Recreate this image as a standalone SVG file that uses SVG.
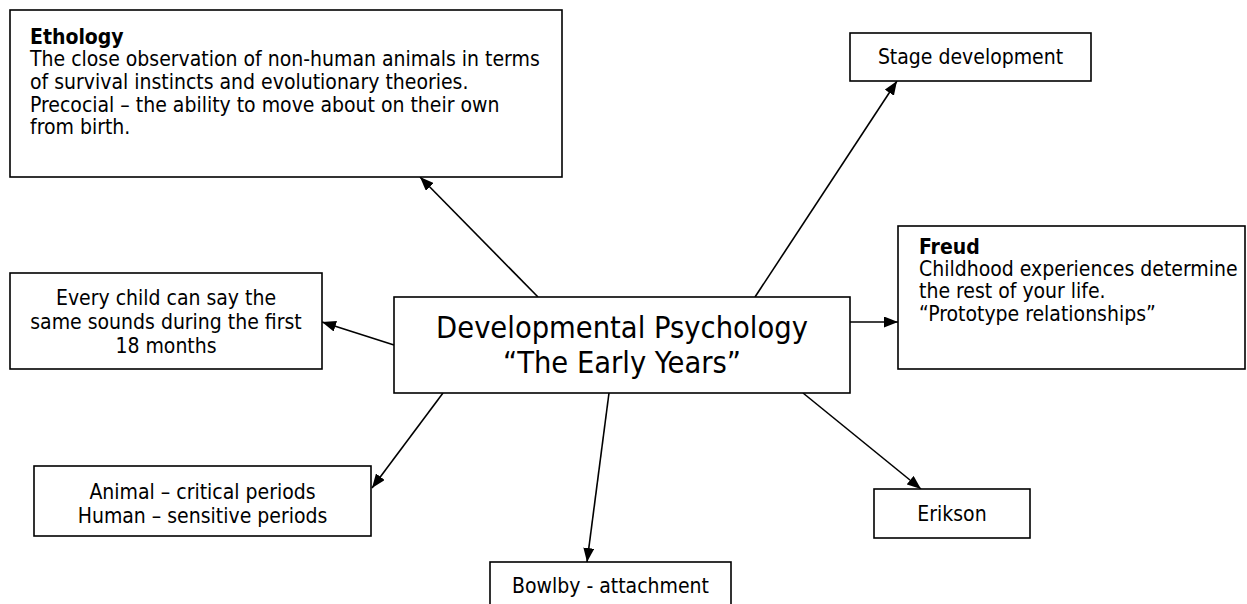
<svg xmlns="http://www.w3.org/2000/svg" width="1247" height="604" viewBox="0 0 1247 604">
<defs>
<marker id="ah" viewBox="0 0 14 11" refX="14" refY="5.5" markerWidth="14" markerHeight="11" markerUnits="userSpaceOnUse" orient="auto">
<path d="M0,0 L14,5.5 L0,11 z" fill="#000"/>
</marker>
<style>
.box{fill:#fff;stroke:#000;stroke-width:1.6}
.t{font-family:"DejaVu Sans Condensed","DejaVu Sans",sans-serif;font-size:21px;fill:#000}
.b{font-weight:bold}
.c{text-anchor:middle}
.big{font-size:30.5px}
.con line{stroke:#000;stroke-width:1.6;marker-end:url(#ah)}
</style>
</defs>
<rect width="1247" height="604" fill="#fff"/>
<g id="connectors" class="con">
<line x1="538" y1="297" x2="420" y2="177"/>
<line x1="755" y1="297" x2="897" y2="81"/>
<line x1="850" y1="322" x2="898" y2="322"/>
<line x1="394" y1="345" x2="322" y2="322"/>
<line x1="443" y1="393" x2="372" y2="488"/>
<line x1="609" y1="393" x2="587" y2="562"/>
<line x1="803" y1="393" x2="921" y2="489"/>
</g>
<g id="ethology">
<rect class="box" x="10" y="10" width="552" height="167"/>
<text class="t b" x="30" y="44">Ethology</text>
<text class="t" x="30" y="66">The close observation of non-human animals in terms</text>
<text class="t" x="30" y="89">of survival instincts and evolutionary theories.</text>
<text class="t" x="30" y="112">Precocial – the ability to move about on their own</text>
<text class="t" x="30" y="134">from birth.</text>
</g>
<g id="stage">
<rect class="box" x="850" y="33" width="241" height="48"/>
<text class="t c" x="970.5" y="64">Stage development</text>
</g>
<g id="freud">
<rect class="box" x="898" y="226" width="347" height="143"/>
<text class="t b" x="919" y="254">Freud</text>
<text class="t" x="919" y="276">Childhood experiences determine</text>
<text class="t" x="919" y="298">the rest of your life.</text>
<text class="t" x="919" y="321">“Prototype relationships”</text>
</g>
<g id="every-child">
<rect class="box" x="10" y="273" width="312" height="96"/>
<text class="t c" x="166" y="305">Every child can say the</text>
<text class="t c" x="166" y="329">same sounds during the first</text>
<text class="t c" x="166" y="353">18 months</text>
</g>
<g id="center">
<rect class="box" x="394" y="297" width="456" height="96"/>
<text class="t c big" x="622" y="338">Developmental Psychology</text>
<text class="t c big" x="622" y="373">“The Early Years”</text>
</g>
<g id="animal">
<rect class="box" x="34" y="466" width="337" height="70"/>
<text class="t c" x="202.5" y="499">Animal – critical periods</text>
<text class="t c" x="202.5" y="523">Human – sensitive periods</text>
</g>
<g id="erikson">
<rect class="box" x="874" y="489" width="156" height="49"/>
<text class="t c" x="952" y="521">Erikson</text>
</g>
<g id="bowlby">
<rect class="box" x="490" y="562" width="241" height="60"/>
<text class="t c" x="610.5" y="593">Bowlby - attachment</text>
</g>
</svg>
